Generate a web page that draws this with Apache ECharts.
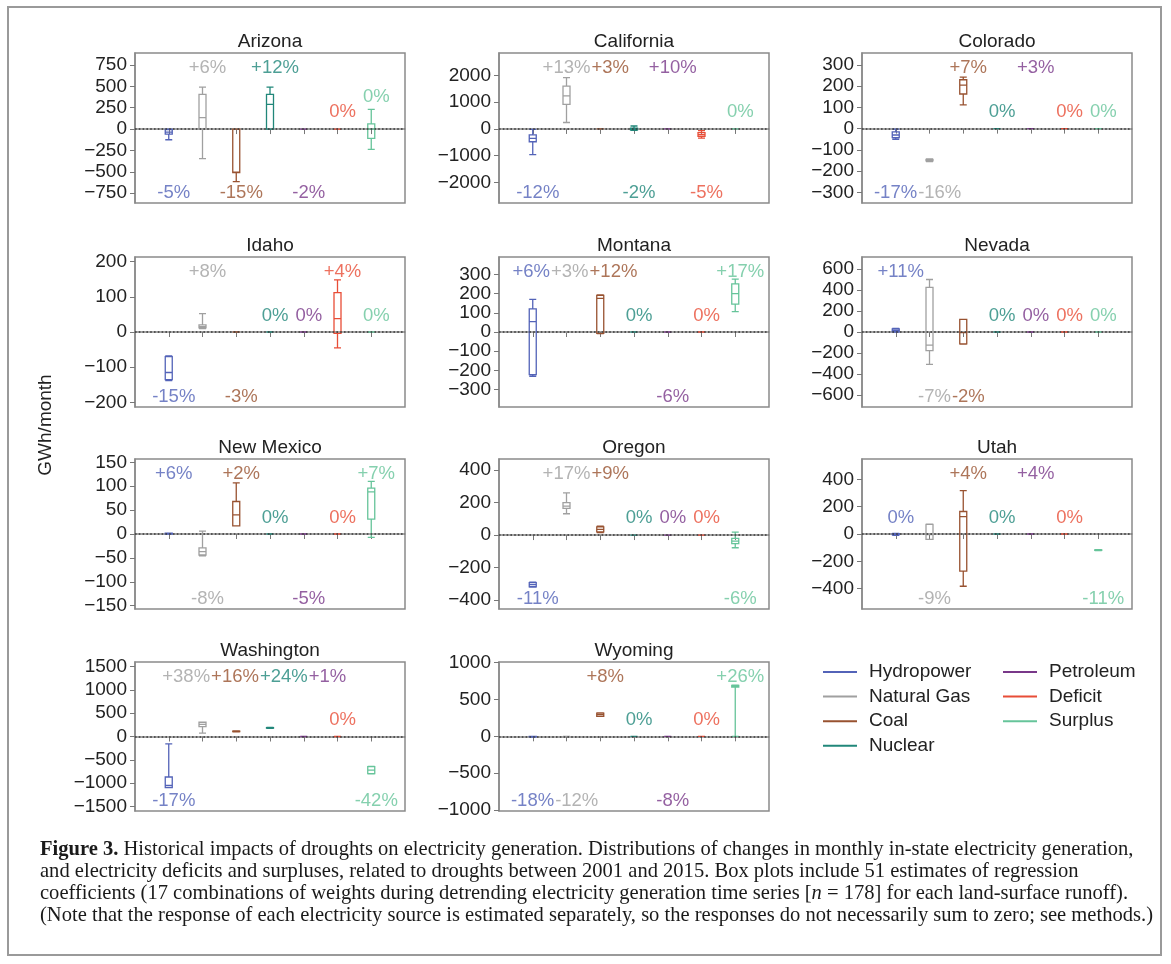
<!DOCTYPE html>
<html>
<head>
<meta charset="utf-8">
<script src="https://cdn.jsdelivr.net/npm/echarts@6/dist/echarts.min.js"></script>
<style>
html,body{margin:0;padding:0;background:#fff}
#chart{width:1171px;height:964px}
</style>
</head>
<body>
<div id="chart"></div>
<script>
// sources and colours
var sources = ['Hydropower', 'Natural Gas', 'Coal', 'Nuclear', 'Petroleum', 'Deficit', 'Surplus'];
var colors = ['#5363b8', '#a0a0a0', '#985230', '#21877a', '#793889', '#e84d37', '#66c49a'];

// box stats per source: [min, Q1, median, Q3, max]  (GWh/month)
var Z = [0, 0, 0, 0, 0];
var boxArizona = [[-125, -60, -35, -5, 0], [-345, 0, 135, 405, 490], [-615, -510, -505, 0, 0], [0, 0, 290, 405, 490], Z, Z, [-238, -110, 0, 60, 230]];
var boxCalifornia = [[-960, -480, -350, -220, -20], [240, 920, 1240, 1600, 1920], Z, [-50, -30, 0, 30, 110], Z, [-340, -280, -210, -140, -60], Z];
var boxColorado = [[-50, -42, -30, -15, -2], [-155, -152, -148, -145, -142], [112, 163, 205, 230, 242], Z, Z, Z, Z];
var boxIdaho = [[-138, -135, -115, -70, -68], [10, 12, 15, 20, 52], Z, Z, Z, [-45, -4, 38, 112, 148], Z];
var boxMontana = [[-230, -222, 54, 120, 170], Z, [-8, -7, 175, 190, 193], Z, Z, Z, [106, 145, 200, 250, 275]];
var boxNevada = [[0, 3, 15, 30, 35], [-308, -178, -125, 425, 500], [-115, -114, -6, 120, 121], Z, Z, Z, Z];
var boxNewMexico = [[0, 0, 1, 2, 2], [-46, -44, -37, -29, 6], [17, 17, 40, 68, 107], Z, Z, Z, [-7, 31, 88, 96, 110]];
var boxOregon = [[-320, -318, -305, -293, -290], [131, 164, 178, 199, 260], [15, 20, 35, 50, 55], Z, Z, Z, [-78, -53, -37, -20, 18]];
var boxUtah = [[-10, -5, 0, 3, 5], [-40, -39, -5, 70, 72], [-383, -272, 128, 165, 318], Z, Z, Z, [-122, -120, -118, -116, -114]];
var boxWashington = [[-1100, -1095, -1050, -870, -157], [71, 214, 260, 306, 310], [100, 105, 110, 115, 120], [175, 180, 185, 190, 195], Z, Z, [-800, -799, -720, -645, -642]];
var boxWyoming = [[-10, -5, 0, 0, 0], Z, [270, 272, 295, 316, 318], Z, Z, Z, [0, 670, 680, 693, 695]];

// percentage change labels
var pctArizona = ['-5%', '+6%', '-15%', '+12%', '-2%', '0%', '0%'];
var pctCalifornia = ['-12%', '+13%', '+3%', '-2%', '+10%', '-5%', '0%'];
var pctColorado = ['-17%', '-16%', '+7%', '0%', '+3%', '0%', '0%'];
var pctIdaho = ['-15%', '+8%', '-3%', '0%', '0%', '+4%', '0%'];
var pctMontana = ['+6%', '+3%', '+12%', '0%', '-6%', '0%', '+17%'];
var pctNevada = ['+11%', '-7%', '-2%', '0%', '0%', '0%', '0%'];
var pctNewMexico = ['+6%', '-8%', '+2%', '0%', '-5%', '0%', '+7%'];
var pctOregon = ['-11%', '+17%', '+9%', '0%', '0%', '0%', '-6%'];
var pctUtah = ['0%', '-9%', '+4%', '0%', '+4%', '0%', '-11%'];
var pctWashington = ['-17%', '+38%', '+16%', '+24%', '+1%', '0%', '-42%'];
var pctWyoming = ['-18%', '-12%', '+8%', '0%', '-8%', '0%', '+26%'];

// y tick labels and ranges
var ticksArizona = [-750, -500, -250, 0, 250, 500, 750];
var ticksCalifornia = [-2000, -1000, 0, 1000, 2000];
var ticksColorado = [-300, -200, -100, 0, 100, 200, 300];
var ticksIdaho = [-200, -100, 0, 100, 200];
var ticksMontana = [-300, -200, -100, 0, 100, 200, 300];
var ticksNevada = [-600, -400, -200, 0, 200, 400, 600];
var ticksNewMexico = [-150, -100, -50, 0, 50, 100, 150];
var ticksOregon = [-400, -200, 0, 200, 400];
var ticksUtah = [-400, -200, 0, 200, 400];
var ticksWashington = [-1500, -1000, -500, 0, 500, 1000, 1500];
var ticksWyoming = [-1000, -500, 0, 500, 1000];

var panels = [
    {name: 'Arizona', box: boxArizona, pct: pctArizona, ticks: ticksArizona, range: [-865, 890]},
    {name: 'California', box: boxCalifornia, pct: pctCalifornia, ticks: ticksCalifornia, range: [-2770, 2840]},
    {name: 'Colorado', box: boxColorado, pct: pctColorado, ticks: ticksColorado, range: [-350, 356]},
    {name: 'Idaho', box: boxIdaho, pct: pctIdaho, ticks: ticksIdaho, range: [-213, 213]},
    {name: 'Montana', box: boxMontana, pct: pctMontana, ticks: ticksMontana, range: [-390, 390]},
    {name: 'Nevada', box: boxNevada, pct: pctNevada, ticks: ticksNevada, range: [-714, 714]},
    {name: 'New Mexico', box: boxNewMexico, pct: pctNewMexico, ticks: ticksNewMexico, range: [-157, 157]},
    {name: 'Oregon', box: boxOregon, pct: pctOregon, ticks: ticksOregon, range: [-455, 468]},
    {name: 'Utah', box: boxUtah, pct: pctUtah, ticks: ticksUtah, range: [-550, 550]},
    {name: 'Washington', box: boxWashington, pct: pctWashington, ticks: ticksWashington, range: [-1600, 1600]},
    {name: 'Wyoming', box: boxWyoming, pct: pctWyoming, ticks: ticksWyoming, range: [-1015, 1010]}
];

var captionLines = [
    '{b|Figure 3.} Historical impacts of droughts on electricity generation. Distributions of changes in monthly in-state electricity generation,',
    'and electricity deficits and surpluses, related to droughts between 2001 and 2015. Box plots include 51 estimates of regression',
    'coefficients (17 combinations of weights during detrending electricity generation time series [{i|n} = 178] for each land-surface runoff).',
    '(Note that the response of each electricity source is estimated separately, so the responses do not necessarily sum to zero; see methods.)'
];
// approximate line lengths in the original caption (px)
var captionWidths = [1098, 1056, 1097, 1077];

var SANS = '"Liberation Sans", Arial, Helvetica, sans-serif';
var SERIF = '"Liberation Serif", "Times New Roman", serif';
var colLeft = [135, 499, 862];
var rowTop = [53, 257, 459, 662];
var gridW = 270, gridH = 150;
var tickPx = 19, pctPx = 18.5;

var ctx = document.createElement('canvas').getContext('2d');
function textW(s, font) { ctx.font = font; return ctx.measureText(s).width; }

// caption size: average fit of the line lengths
var capPx = 0;
captionLines.forEach(function (l, k) {
    var plain = l.replace(/\{[bi]\|([^}]*)\}/g, '$1');
    capPx += 16 * captionWidths[k] / textW(plain, '16px ' + SERIF) / captionLines.length;
});

var grids = [], xAxes = [], yAxes = [], series = [], graphics = [];

panels.forEach(function (p, g) {
    var left = colLeft[g % 3], top = rowTop[Math.floor(g / 3)];
    var h = (g >= 9) ? 149 : gridH;
    var ymin = p.range[0], ymax = p.range[1], span = ymax - ymin;
    var pxPerUnit = h / span;
    var step = gridW / 8;

    grids.push({left: left, top: top, width: gridW, height: h, show: true,
        borderColor: '#8a8a8a', borderWidth: 1.5, backgroundColor: 'transparent'});
    xAxes.push({type: 'category', gridIndex: g, boundaryGap: false,
        data: [''].concat(sources, ['']),
        axisLine: {show: true, lineStyle: {color: '#8a8a8a', width: 1.5}},
        axisLabel: {show: false},
        axisTick: {show: true, length: 5, interval: function (i) { return i >= 1 && i <= 7; },
            lineStyle: {color: '#777'}},
        splitLine: {show: false}});
    yAxes.push({type: 'value', gridIndex: g, min: ymin, max: ymax,
        axisLine: {show: true, lineStyle: {color: '#8a8a8a', width: 1.5}},
        axisTick: {show: true, length: 5, customValues: p.ticks, lineStyle: {color: '#777'}},
        axisLabel: {show: true, customValues: p.ticks, margin: 8, fontSize: tickPx, color: '#222',
            fontFamily: SANS,
            formatter: function (v) { return String(v).replace('-', '\u2212'); }},
        splitLine: {show: false}});

    // boxes
    series.push({type: 'boxplot', xAxisIndex: g, yAxisIndex: g, boxWidth: [7, 7],
        encode: {x: 0, y: [1, 2, 3, 4, 5]}, silent: true, z: 3,
        data: p.box.map(function (b, i) {
            return {value: [i + 1].concat(b),
                itemStyle: {color: 'rgba(255,255,255,0)', borderColor: colors[i], borderWidth: 1.3}};
        })});

    // label rows (data units), then spread overlapping labels sideways
    var topLevel = ymax - 0.097 * span;
    var midLevel = ymax - 0.39 * span;
    var botLevel = ymax - 0.935 * span;
    var items = p.pct.map(function (t, i) {
        var lvl;
        if (t.charAt(0) === '+') lvl = topLevel;
        else if (t.charAt(0) === '-') lvl = botLevel;
        else lvl = Math.max(midLevel, p.box[i][4] + 13 / pxPerUnit);
        var cx = (i + 1) * step;
        return {i: i, text: t, lvl: lvl, cx: cx, x: cx + 5, w: textW(t, pctPx + 'px ' + SANS)};
    });
    var rows = {};
    items.forEach(function (it) { (rows[it.lvl] = rows[it.lvl] || []).push(it); });
    Object.keys(rows).forEach(function (k) {
        var r = rows[k].sort(function (a, b) { return a.x - b.x; });
        for (var iter = 0; iter < 30; iter++) {
            for (var j = 0; j < r.length - 1; j++) {
                var ov = (r[j].x + r[j].w / 2 + 1) - (r[j + 1].x - r[j + 1].w / 2);
                if (ov > 0) { r[j].x -= ov / 2; r[j + 1].x += ov / 2; }
            }
        }
    });

    series.push({type: 'scatter', xAxisIndex: g, yAxisIndex: g, symbolSize: 1, silent: true, z: 2,
        itemStyle: {color: 'rgba(0,0,0,0)'},
        markLine: {silent: true, symbol: ['none', 'none'], label: {show: false},
            lineStyle: {type: [1.6, 2.2], color: '#3a3a3a', width: 1.6}, data: [{yAxis: 0}]},
        data: items.map(function (it) {
            return {value: [it.i + 1, it.lvl],
                label: {show: true, position: 'inside', formatter: it.text, color: colors[it.i],
                    fontSize: pctPx, fontFamily: SANS, offset: [it.x - it.cx, 0]}};
        })});

    graphics.push({type: 'text', x: left + gridW / 2, y: top - 11,
        style: {text: p.name, fill: '#222', font: '19px ' + SANS, textAlign: 'center', textVerticalAlign: 'middle'}});
});

// dummy series for the legend
sources.forEach(function (s, i) {
    series.push({type: 'line', name: s, xAxisIndex: 0, yAxisIndex: 0, data: [],
        itemStyle: {color: colors[i]}, lineStyle: {color: colors[i]}});
});

graphics.push({type: 'text', x: 46, y: 425, rotation: Math.PI / 2,
    style: {text: 'GWh/month', fill: '#222', font: '19px ' + SANS, textAlign: 'center', textVerticalAlign: 'middle'}});

graphics.push({type: 'rect', shape: {x: 8, y: 7, width: 1153, height: 948}, silent: true,
    style: {fill: 'none', stroke: '#9a9a9a', lineWidth: 2}});

captionLines.forEach(function (line, k) {
    graphics.push({type: 'text', x: 40, y: 850 + k * 21.8,
        style: {text: line, fill: '#1a1a1a', font: capPx.toFixed(2) + 'px ' + SERIF, textVerticalAlign: 'middle',
            rich: {b: {fontWeight: 'bold', fontFamily: SERIF, fontSize: capPx},
                i: {fontStyle: 'italic', fontFamily: SERIF, fontSize: capPx}}}});
});

var legendBase = {orient: 'vertical', top: 662, padding: 0, icon: 'rect', itemWidth: 34, itemHeight: 2,
    itemGap: 4.6, selectedMode: false,
    textStyle: {fontSize: 19, color: '#222', fontFamily: SANS, lineHeight: 20, padding: [0, 0, 0, 7]}};

var chart = echarts.init(document.getElementById('chart'), null, {renderer: 'canvas'});
chart.setOption({
    animation: false,
    backgroundColor: '#fff',
    grid: grids,
    xAxis: xAxes,
    yAxis: yAxes,
    legend: [
        echarts.util.merge({left: 823, data: sources.slice(0, 4)}, legendBase),
        echarts.util.merge({left: 1003, data: sources.slice(4)}, legendBase)
    ],
    series: series,
    graphic: graphics
});
</script>
</body>
</html>
